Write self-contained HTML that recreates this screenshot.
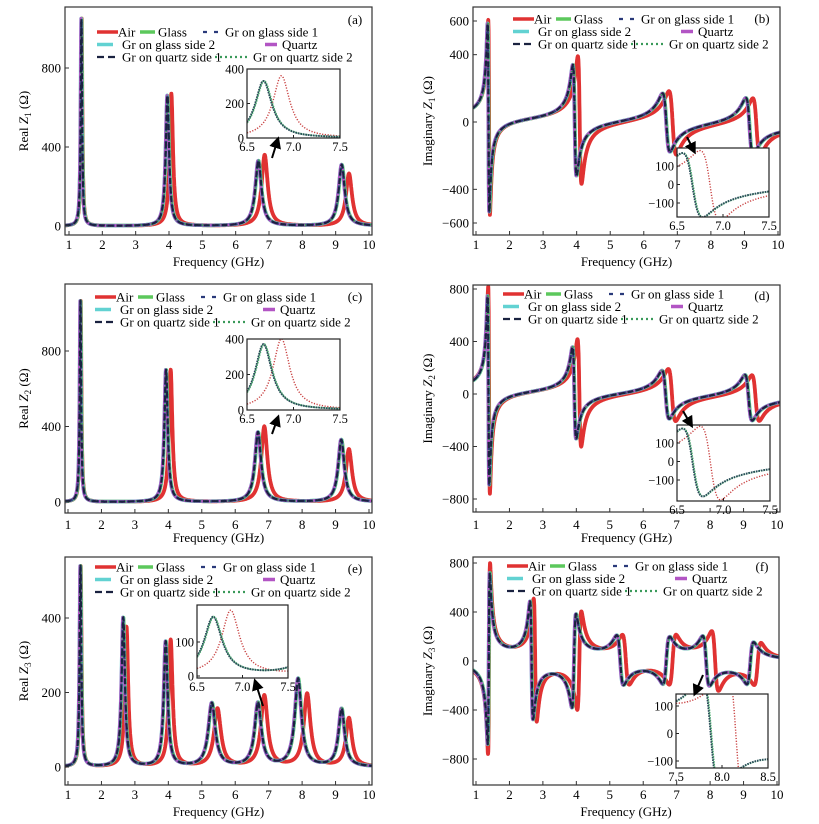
<!DOCTYPE html>
<html><head><meta charset="utf-8"><style>
html,body{margin:0;padding:0;background:#fff;}
svg{display:block;font-family:"Liberation Serif",serif;}
</style></head><body>
<svg id="fig" width="819" height="824" viewBox="0 0 819 824" xmlns="http://www.w3.org/2000/svg">
<defs>
<marker id="ah" markerWidth="6" markerHeight="6" refX="3" refY="3" orient="auto"><path d="M0,0 L6,3 L0,6 z" fill="#000"/></marker>
</defs>
</svg>
<script>
// ---------- data ----------
const X_TICKS = [1,2,3,4,5,6,7,8,9,10];
// Panel (a) Real Z1
const A_FREQ_AIR = [1.38, 4.07, 6.87, 9.40];
const A_VAL_AIR  = [1050, 670, 360, 265];
const A_FREQ_SUB = [1.37, 3.95, 6.68, 9.18];
const A_VAL_SUB  = [1050, 660, 330, 310];
const A_WIDTH    = [0.05, 0.12, 0.22, 0.22];
const A_YTICKS   = [0, 400, 800];
// Panel (b) Imag Z1
const B_FREQ_AIR = [1.39, 4.09, 6.86, 9.36];
const B_VAL_AIR  = [580, 380, 190, 170];
const B_FREQ_SUB = [1.37, 3.94, 6.67, 9.15];
const B_VAL_SUB  = [560, 330, 175, 170];
const B_WIDTH    = [0.05, 0.11, 0.22, 0.22];
const B_YTICKS   = [-600, -400, 0, 400, 600];
// Panel (c) Real Z2
const C_FREQ_AIR = [1.38, 4.07, 6.87, 9.40];
const C_VAL_AIR  = [1070, 700, 400, 280];
const C_FREQ_SUB = [1.37, 3.93, 6.68, 9.17];
const C_VAL_SUB  = [1070, 700, 370, 330];
const C_WIDTH    = [0.05, 0.12, 0.22, 0.22];
const C_YTICKS   = [0, 400, 800];
// Panel (d) Imag Z2
const D_FREQ_AIR = [1.39, 4.09, 6.86, 9.36];
const D_VAL_AIR  = [790, 410, 200, 175];
const D_FREQ_SUB = [1.37, 3.94, 6.67, 9.15];
const D_VAL_SUB  = [720, 350, 185, 175];
const D_WIDTH    = [0.05, 0.11, 0.22, 0.22];
const D_YTICKS   = [-800, -400, 0, 400, 800];
// Panel (e) Real Z3
const E_FREQ_AIR = [1.38, 2.75, 4.07, 5.47, 6.87, 8.15, 9.40];
const E_VAL_AIR  = [540, 375, 340, 155, 190, 195, 130];
const E_FREQ_SUB = [1.37, 2.65, 3.92, 5.30, 6.68, 7.88, 9.18];
const E_VAL_SUB  = [540, 400, 335, 170, 170, 235, 155];
const E_WIDTH    = [0.06, 0.12, 0.14, 0.25, 0.24, 0.24, 0.22];
const E_YTICKS   = [0, 200, 400];
// Panel (f) Imag Z3 (signed amplitudes)
const F_FREQ_AIR = [1.39, 2.77, 4.09, 5.48, 6.88, 8.15, 9.42];
const F_VAL_AIR  = [-780, 500, -400, 200, -200, 240, -170];
const F_FREQ_SUB = [1.38, 2.66, 3.93, 5.31, 6.69, 7.88, 9.20];
const F_VAL_SUB  = [-700, 480, -380, 200, -190, 200, -170];
const F_WIDTH    = [0.06, 0.09, 0.12, 0.2, 0.2, 0.2, 0.2];
const F_YTICKS   = [-800, -400, 0, 400, 800];
// per-substrate tiny frequency shifts (GHz) of the overlapping sample curves
const SERIES_NAMES = ["Air","Glass","Gr on glass side 2","Quartz","Gr on quartz side 2","Gr on glass side 1","Gr on quartz side 1"];
const SERIES_SHIFT = [0, 0.006, -0.006, -0.01, 0.008, 0, 0.003];

// ---------- helpers ----------
const NS = "http://www.w3.org/2000/svg";
const svg = document.getElementById("fig");
function mk(tag, attrs, parent){const e=document.createElementNS(NS,tag);for(const k in attrs)e.setAttribute(k,attrs[k]);(parent||svg).appendChild(e);return e;}
function lin(v1,p1,v2,p2){return v=>p1+(v-v1)*(p2-p1)/(v2-v1);}
function realModel(f,fs,hs,ws,sh){let s=0;for(let i=0;i<fs.length;i++){const x=2*(f-fs[i]-sh)/ws[i];s+=hs[i]/(1+x*x);}return s;}
function imagModel(f,fs,as,ws,sh){let s=0;for(let i=0;i<fs.length;i++){const x=2*(f-fs[i]-sh)/ws[i];s+=-2*as[i]*x/(1+x*x);}return s;}

const STY = [
 {c:"#e03232",w:3.8,d:""},
 {c:"#5cc85c",w:3.6,d:""},
 {c:"#62d2d2",w:3.6,d:""},
 {c:"#b255c4",w:3,d:""},
 {c:"#3a9a5a",w:2.2,d:"1.5,2"},
 {c:"#2a3a7a",w:2.2,d:"2,4"},
 {c:"#1a2240",w:2.2,d:"6,3"}
];

const PANELS = [
 {id:"a",kind:"re",fa:A_FREQ_AIR,va:A_VAL_AIR,fs:A_FREQ_SUB,vs:A_VAL_SUB,w:A_WIDTH,yt:A_YTICKS,box:[65,7,372,235],xp:[69,369],yr:[0,226,800,68],
  title:"Real ",sub:"1",tx:28,xl:262,tl:245,leg:[97,32],lab:[355,20],
  ins:{box:[247,69,340,138],xr:[6.5,7.5],yr:[0,138,400,69],yt:[0,200,400],xt:[6.5,7.0,7.5]},arrow:[272,158,277,142]},
 {id:"b",kind:"im",fa:B_FREQ_AIR,va:B_VAL_AIR,fs:B_FREQ_SUB,vs:B_VAL_SUB,w:B_WIDTH,yt:B_YTICKS,box:[473,7,780,235],xp:[476,778],yr:[600,21,-600,223],
  title:"Imaginary ",sub:"1",tx:432,xl:262,tl:245,leg:[513,19],lab:[762,19],
  ins:{box:[677,148,769,217],xr:[6.5,7.5],yr:[100,166,-100,203],yt:[-100,0,100],xt:[6.5,7.0,7.5]},arrow:[687,137,693,149]},
 {id:"c",kind:"re",fa:C_FREQ_AIR,va:C_VAL_AIR,fs:C_FREQ_SUB,vs:C_VAL_SUB,w:C_WIDTH,yt:C_YTICKS,box:[65,284,372,513],xp:[68,369],yr:[0,502,800,351],
  title:"Real ",sub:"2",tx:28,xl:538,tl:525,leg:[95,297],lab:[355,297],
  ins:{box:[247,339,340,410],xr:[6.5,7.5],yr:[0,410,400,339],yt:[0,200,400],xt:[6.5,7.0,7.5]},arrow:[272,434,277,420]},
 {id:"d",kind:"im",fa:D_FREQ_AIR,va:D_VAL_AIR,fs:D_FREQ_SUB,vs:D_VAL_SUB,w:D_WIDTH,yt:D_YTICKS,box:[473,285,780,512],xp:[476,777],yr:[800,289,-800,499],
  title:"Imaginary ",sub:"2",tx:432,xl:538,tl:525,leg:[503,294],lab:[762,296],
  ins:{box:[677,425,770,501],xr:[6.5,7.5],yr:[100,443,-100,480],yt:[-100,0,100],xt:[6.5,7.0,7.5]},arrow:[683,411,690,423]},
 {id:"e",kind:"re",fa:E_FREQ_AIR,va:E_VAL_AIR,fs:E_FREQ_SUB,vs:E_VAL_SUB,w:E_WIDTH,yt:E_YTICKS,box:[65,557,372,785],xp:[68,369],yr:[0,767,400,618],
  title:"Real ",sub:"3",tx:28,xl:812,tl:795,leg:[95,567],lab:[355,569],
  ins:{box:[197,605,288,678],xr:[6.5,7.5],yr:[0,676,100,642],yt:[0,100],xt:[6.5,7.0,7.5]},arrow:[263,706,256,684]},
 {id:"f",kind:"im",fa:F_FREQ_AIR,va:F_VAL_AIR,fs:F_FREQ_SUB,vs:F_VAL_SUB,w:F_WIDTH,yt:F_YTICKS,box:[473,557,779,785],xp:[476,777],yr:[800,563,-800,759],
  title:"Imaginary ",sub:"3",tx:432,xl:812,tl:795,leg:[507,566],lab:[762,567],
  ins:{box:[676,694,768,768],xr:[7.5,8.5],yr:[100,706,-100,761],yt:[-100,0,100],xt:[7.5,8.0,8.5]},arrow:[703,675,696,691]}
];

function val(p,f,isAir,sh){
  const fr=isAir?p.fa:p.fs, v=isAir?p.va:p.vs;
  return p.kind==="re"?realModel(f,fr,v,p.w,sh):imagModel(f,fr,v,p.w,sh);
}

PANELS.forEach(p=>{
  const g=mk("g",{});
  
  
  const [x0,y0,x1,y1]=p.box;
  const X=lin(1,p.xp[0],10,p.xp[1]);
  const Y=lin(p.yr[0],p.yr[1],p.yr[2],p.yr[3]);
  const cp=mk("clipPath",{id:"cp"+p.id},g);
  mk("rect",{x:x0,y:y0,width:x1-x0,height:y1-y0},cp);
  const fmin=1+(x0-p.xp[0])*9/(p.xp[1]-p.xp[0]), fmax=1+(x1-p.xp[0])*9/(p.xp[1]-p.xp[0]);
  const sg=mk("g",{"clip-path":"url(#cp"+p.id+")"},g);
  
  
  SERIES_NAMES.forEach((nm,si)=>{
    const isAir=si===0; let d="";
    for(let f=fmin;f<=fmax;f+=0.004){
      d+=(d?"L":"M")+X(f).toFixed(1)+","+Y(val(p,f,isAir,SERIES_SHIFT[si])).toFixed(1);
    }
    const s=STY[si];
    const path=mk("path",{d:d,fill:"none",stroke:s.c,"stroke-width":s.w,"stroke-dasharray":s.d,"stroke-linejoin":"round"},sg);
    
    
  });
  const bx=mk("rect",{x:x0,y:y0,width:x1-x0,height:y1-y0,fill:"none",stroke:"#333","stroke-width":1.2},g);
  
  
  X_TICKS.forEach(t=>{
    mk("line",{x1:X(t),x2:X(t),y1:y1,y2:y1-4,stroke:"#333","stroke-width":1},g);
    const tx=mk("text",{x:X(t),y:p.tl+4,"font-size":13,"text-anchor":"middle"},g);
    tx.textContent=t;
    
    
  });
  p.yt.forEach(t=>{
    mk("line",{x1:x0,x2:x0+4,y1:Y(t),y2:Y(t),stroke:"#333","stroke-width":1},g);
    const ty=mk("text",{x:x0-4,y:Y(t)+4.5,"font-size":13,"text-anchor":"end"},g);
    ty.textContent=t<0?"\u2212"+(-t):t;
    
    
  });
  const xt=mk("text",{x:(x0+x1)/2,y:p.xl+4,"font-size":13,"text-anchor":"middle"},g);
  xt.textContent="Frequency (GHz)";
  
  
  const cy=(y0+y1)/2;
  const yt=mk("text",{x:p.tx,y:cy,"font-size":13,"text-anchor":"middle",transform:"rotate(-90 "+p.tx+" "+cy+")"},g);
  
  
  mk("tspan",{},yt).textContent=p.title;
  mk("tspan",{"font-style":"italic"},yt).textContent="Z";
  mk("tspan",{"font-size":9,dy:3},yt).textContent=p.sub;
  mk("tspan",{dy:-3},yt).textContent=" (\u03A9)";
  const lb=mk("text",{x:p.lab[0],y:p.lab[1]+4,"font-size":13,"text-anchor":"middle"},g);
  lb.textContent="("+p.id+")";
  
  
  const [lx,ly]=p.leg;
  const lg=mk("g",{},g);
  
  
  const entries=[
    [0,21,0,0,21,"Air",0],[43,58,0,0,61,"Glass",1],[106,125,0,0,128,"Gr on glass side 1",5],
    [0,16,0,1,25,"Gr on glass side 2",2],[168,180,0,1,185,"Quartz",3],
    [0,21,0,2,25,"Gr on quartz side 1",6],[118,151,0,2,156,"Gr on quartz side 2",4]];
  entries.forEach(e=>{
    const yy=ly+e[3]*12.5; const s=STY[e[6]];
    const le=mk("g",{},lg);
    
    
    const dash=e[6]===5?"4,7":e[6]===6?"7,4":e[6]===4?"2,3":"";
    mk("line",{x1:lx+e[0],x2:lx+e[1],y1:yy,y2:yy,stroke:s.c,"stroke-width":e[6]>=4?2.2:3.5,"stroke-dasharray":dash},le);
    const t=mk("text",{x:lx+e[4],y:yy+4.5,"font-size":13},le);
    t.textContent=e[5];
  });
  const I=p.ins; const [ix0,iy0,ix1,iy1]=I.box;
  const ig=mk("g",{},g);
  
  
  mk("rect",{x:ix0,y:iy0,width:ix1-ix0,height:iy1-iy0,fill:"#fff",stroke:"none"},ig);
  const IX=lin(I.xr[0],ix0,I.xr[1],ix1);
  const IY=lin(I.yr[0],I.yr[1],I.yr[2],I.yr[3]);
  const icp=mk("clipPath",{id:"icp"+p.id},ig);
  mk("rect",{x:ix0,y:iy0,width:ix1-ix0,height:iy1-iy0},icp);
  const im=mk("g",{"clip-path":"url(#icp"+p.id+")"},ig);
  [[0,"#c84040",0],[1,"#4db070",0.004],[6,"#2a4a5a",-0.004]].forEach(([si,col,sh])=>{
    const isAir=si===0; let d="";
    for(let f=I.xr[0];f<=I.xr[1];f+=0.0025){d+=(d?"L":"M")+IX(f).toFixed(1)+","+IY(val(p,f,isAir,sh)).toFixed(1);}
    const ip=mk("path",{d:d,fill:"none",stroke:col,"stroke-width":si===0?1.4:1.8,"stroke-dasharray":si===0?"1.2,1.6":"1.6,1"},im);
    
    
  });
  mk("rect",{x:ix0,y:iy0,width:ix1-ix0,height:iy1-iy0,fill:"none",stroke:"#222","stroke-width":1.2},ig);
  I.xt.forEach(t=>{
    mk("line",{x1:IX(t),x2:IX(t),y1:iy1,y2:iy1-3,stroke:"#222"},ig);
    const tt=mk("text",{x:IX(t),y:iy1+13,"font-size":12.5,"text-anchor":"middle"},ig);
    tt.textContent=t.toFixed(1);
  });
  I.yt.forEach(t=>{
    mk("line",{x1:ix0,x2:ix0+3,y1:IY(t),y2:IY(t),stroke:"#222"},ig);
    const tt=mk("text",{x:ix0-3,y:IY(t)+4.5,"font-size":12.5,"text-anchor":"end"},ig);
    tt.textContent=t<0?"\u2212"+(-t):t;
  });
  const ar=mk("line",{x1:p.arrow[0],y1:p.arrow[1],x2:p.arrow[2],y2:p.arrow[3],stroke:"#000","stroke-width":2,"marker-end":"url(#ah)"},g);
  
  
});
</script>
</body></html>
